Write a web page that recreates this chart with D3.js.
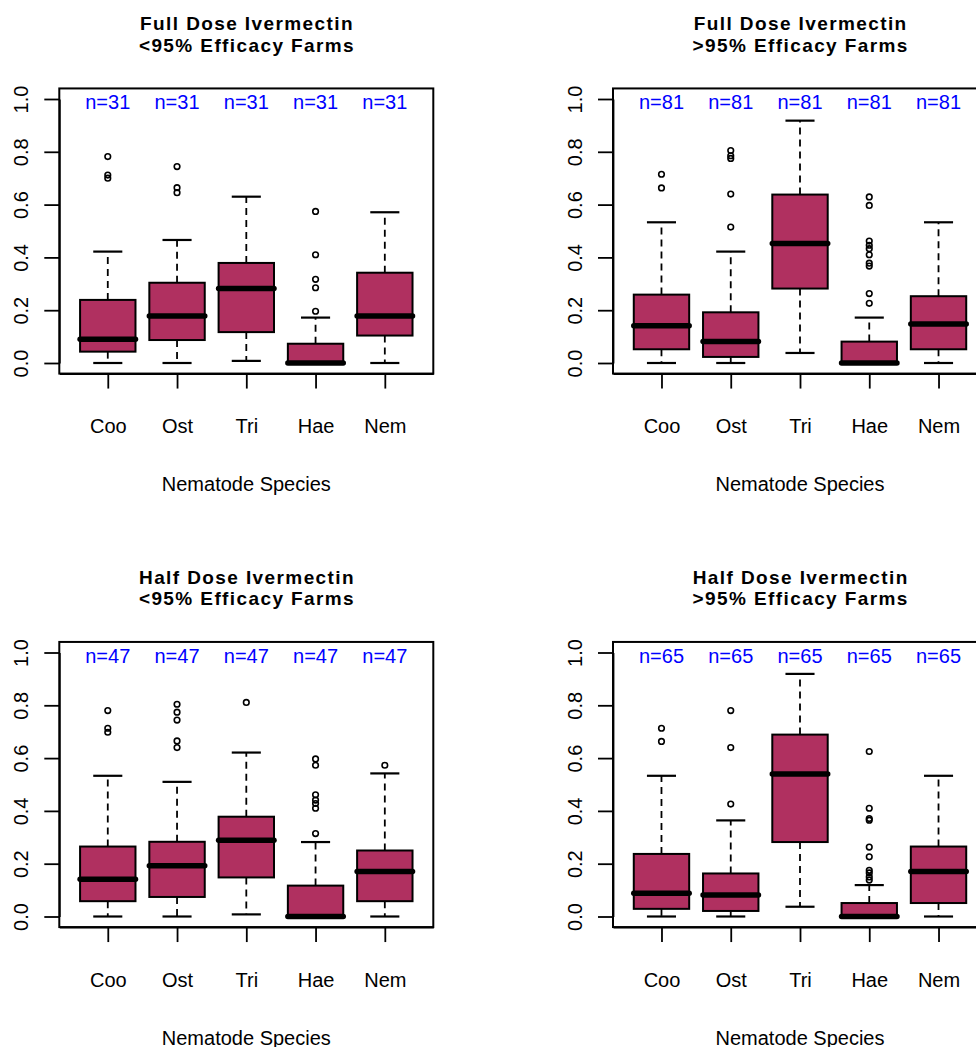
<!DOCTYPE html>
<html>
<head>
<meta charset="utf-8">
<script src="https://cdn.jsdelivr.net/npm/d3@7"></script>
<style>
  html, body { margin: 0; padding: 0; background: #fff; }
  svg { display: block; font-family: "Liberation Sans", Arial, Helvetica, sans-serif; }
</style>
</head>
<body>
<svg id="chart" width="976" height="1047"></svg>
<script>
// ---------- data ----------
const categories = ["Coo", "Ost", "Tri", "Hae", "Nem"];
const yTicks = [0, 0.2, 0.4, 0.6, 0.8, 1.0];
const xLabel = "Nematode Species";

const titlesLine1 = ["Full Dose Ivermectin", "Full Dose Ivermectin", "Half Dose Ivermectin", "Half Dose Ivermectin"];
const titlesLine2 = ["<95% Efficacy Farms", ">95% Efficacy Farms", "<95% Efficacy Farms", ">95% Efficacy Farms"];
const sampleSizes = [31, 81, 47, 65];

// box statistics per category: [lower whisker, Q1, median, Q3, upper whisker]
const fullLowStats = [
  [0, 0.043, 0.090, 0.239, 0.422],
  [0, 0.087, 0.178, 0.304, 0.466],
  [0.008, 0.117, 0.282, 0.379, 0.630],
  [0, 0, 0, 0.073, 0.172],
  [0, 0.104, 0.178, 0.342, 0.571]
];
const fullLowOutliers = [
  [0.700, 0.712, 0.782],
  [0.645, 0.664, 0.744],
  [],
  [0.196, 0.285, 0.317, 0.410, 0.574],
  []
];

const fullHighStats = [
  [0, 0.052, 0.141, 0.259, 0.533],
  [0, 0.023, 0.081, 0.192, 0.422],
  [0.038, 0.282, 0.453, 0.638, 0.918],
  [0, 0, 0, 0.081, 0.172],
  [0, 0.052, 0.148, 0.253, 0.533]
];
const fullHighOutliers = [
  [0.663, 0.715],
  [0.515, 0.640, 0.775, 0.785, 0.805],
  [],
  [0.226, 0.263, 0.367, 0.378, 0.410, 0.433, 0.446, 0.462, 0.597, 0.629],
  []
];

const halfLowStats = [
  [0, 0.058, 0.141, 0.265, 0.533],
  [0, 0.074, 0.192, 0.283, 0.510],
  [0.008, 0.148, 0.289, 0.378, 0.621],
  [0, 0, 0, 0.117, 0.282],
  [0, 0.058, 0.170, 0.250, 0.542]
];
const halfLowOutliers = [
  [0.698, 0.713, 0.780],
  [0.640, 0.665, 0.744, 0.774, 0.804],
  [0.811],
  [0.314, 0.410, 0.428, 0.441, 0.461, 0.573, 0.597],
  [0.573]
];

const halfHighStats = [
  [0, 0.029, 0.088, 0.237, 0.533],
  [0, 0.021, 0.081, 0.163, 0.364],
  [0.037, 0.282, 0.540, 0.689, 0.919],
  [0, 0, 0, 0.051, 0.119],
  [0, 0.051, 0.170, 0.265, 0.533]
];
const halfHighOutliers = [
  [0.663, 0.713],
  [0.426, 0.640, 0.780],
  [],
  [0.138, 0.150, 0.165, 0.175, 0.226, 0.263, 0.365, 0.371, 0.410, 0.625],
  []
];

const panelStats = [fullLowStats, fullHighStats, halfLowStats, halfHighStats];
const panelOutliers = [fullLowOutliers, fullHighOutliers, halfLowOutliers, halfHighOutliers];

// ---------- layout ----------
const fillColor = "#B03060";
const nColor = "#0000FF";
const panelOffsets = [[0, 0], [553.7, 0], [0, 553.5], [553.7, 553.5]];
const plotLeft = 59.3, plotRight = 433.3;
const yZeroPx = 363, yOnePx = 99;

const svg = d3.select("#chart");

panelOffsets.forEach((off, p) => {
  const g = svg.append("g").attr("transform", `translate(${off[0]},${off[1]})`);

  const x = d3.scaleLinear().domain([0.3, 5.7]).range([plotLeft, plotRight]);
  const y = d3.scaleLinear().domain([0, 1]).range([yZeroPx, yOnePx]);
  const boxTop = y(1.04), boxBottom = y(-0.04);
  const cx = (plotLeft + plotRight) / 2;

  // Title
  const t = g.append("text")
    .attr("text-anchor", "middle")
    .attr("font-weight", "bold")
    .attr("font-size", 19)
    .attr("letter-spacing", "1.4px")
    .attr("fill", "#000");
  t.append("tspan").attr("x", cx + 0.7).attr("y", 30).text(titlesLine1[p]);
  t.append("tspan").attr("x", cx + 0.7).attr("y", 51.5).text(titlesLine2[p]);

  const stats = panelStats[p];
  const outs = panelOutliers[p];

  stats.forEach((s, i) => {
    const c = i + 1;
    const [lo, q1, med, q3, hi] = s;
    // whiskers
    g.append("line")
      .attr("x1", x(c)).attr("x2", x(c))
      .attr("y1", y(q3)).attr("y2", y(hi))
      .attr("stroke", "#000").attr("stroke-width", 1.8)
      .attr("stroke-dasharray", "7,5");
    g.append("line")
      .attr("x1", x(c)).attr("x2", x(c))
      .attr("y1", y(q1)).attr("y2", y(lo))
      .attr("stroke", "#000").attr("stroke-width", 1.8)
      .attr("stroke-dasharray", "7,5");
    // staples
    [lo, hi].forEach(v => {
      g.append("line")
        .attr("x1", x(c - 0.21)).attr("x2", x(c + 0.21))
        .attr("y1", y(v)).attr("y2", y(v))
        .attr("stroke", "#000").attr("stroke-width", 2.2);
    });
    // box
    g.append("rect")
      .attr("x", x(c - 0.4)).attr("width", x(c + 0.4) - x(c - 0.4))
      .attr("y", y(q3)).attr("height", y(q1) - y(q3))
      .attr("fill", fillColor)
      .attr("stroke", "#000").attr("stroke-width", 2);
    // median
    g.append("line")
      .attr("x1", x(c - 0.4)).attr("x2", x(c + 0.4))
      .attr("y1", y(med)).attr("y2", y(med))
      .attr("stroke", "#000").attr("stroke-width", 5.5)
      .attr("stroke-linecap", "round");
    // outliers
    outs[i].forEach(v => {
      g.append("circle")
        .attr("cx", x(c)).attr("cy", y(v)).attr("r", 2.8)
        .attr("fill", "none").attr("stroke", "#000").attr("stroke-width", 1.6);
    });
    // n labels
    g.append("text")
      .attr("x", x(c)).attr("y", y(1) + 10)
      .attr("text-anchor", "middle")
      .attr("font-size", 20)
      .attr("fill", nColor)
      .text("n=" + sampleSizes[p]);
  });

  // frame
  g.append("rect")
    .attr("x", plotLeft).attr("y", boxTop)
    .attr("width", plotRight - plotLeft).attr("height", boxBottom - boxTop)
    .attr("fill", "none").attr("stroke", "#000").attr("stroke-width", 2);

  // y axis
  const yAxis = g.append("g")
    .attr("transform", `translate(${plotLeft},0)`)
    .call(d3.axisLeft(y).tickValues(yTicks).tickFormat(d3.format(".1f")).tickSize(15).tickSizeOuter(0));
  yAxis.selectAll("path, line").attr("stroke", "#000").attr("stroke-width", 1.8);
  yAxis.selectAll("text")
    .attr("x", null).attr("dy", null)
    .attr("text-anchor", "middle")
    .attr("transform", "translate(-31,0) rotate(-90)")
    .attr("font-size", 20)
    .attr("font-family", "Liberation Sans, Arial, sans-serif")
    .attr("fill", "#000");

  // x axis
  const xAxis = g.append("g")
    .attr("transform", `translate(0,${boxBottom})`)
    .call(d3.axisBottom(x).tickValues([1, 2, 3, 4, 5]).tickFormat(d => categories[d - 1]).tickSize(15).tickSizeOuter(0));
  xAxis.selectAll("path, line").attr("stroke", "#000").attr("stroke-width", 1.8);
  xAxis.selectAll("text")
    .attr("y", 59.6).attr("dy", null)
    .attr("font-size", 20)
    .attr("font-family", "Liberation Sans, Arial, sans-serif")
    .attr("fill", "#000");

  // x label
  g.append("text")
    .attr("x", cx).attr("y", 491)
    .attr("text-anchor", "middle")
    .attr("font-size", 20)
    .attr("fill", "#000")
    .text(xLabel);
});
</script>
</body>
</html>
